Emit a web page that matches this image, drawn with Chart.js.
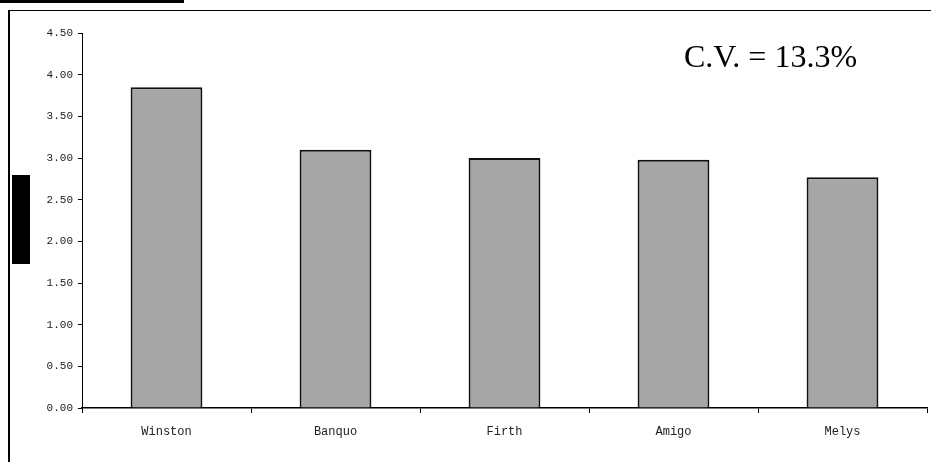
<!DOCTYPE html>
<html>
<head>
<meta charset="utf-8">
<script src="https://cdn.jsdelivr.net/npm/chart.js@4.4.1/dist/chart.umd.min.js"></script>
<style>
    html, body { margin: 0; padding: 0; background: #fff; overflow: hidden; }
    #wrap { position: relative; width: 931px; height: 462px; }
    #frame { position: absolute; left: 8px; top: 10px; width: 940px; height: 470px;
             border-left: 2px solid #000; border-top: 1.5px solid #000; box-sizing: border-box; }
    #cutTitle { position: absolute; left: 0; top: 0; width: 184px; height: 3px; background: #000; }
    #axisBox { position: absolute; left: 12px; top: 175px; width: 18px; height: 89px; background: #000; }
    canvas { position: absolute; left: 0; top: 0; }
</style>
</head>
<body>
<div id="wrap">
    <div id="cutTitle"></div>
    <div id="frame"></div>
    <div id="axisBox"></div>
    <canvas id="yieldChart" width="931" height="462"></canvas>
</div>
<script>
const varieties = ['Winston', 'Banquo', 'Firth', 'Amigo', 'Melys'];
const yieldValues = [3.85, 3.10, 3.00, 2.98, 2.77];
const yTicks = [0, 0.5, 1, 1.5, 2, 2.5, 3, 3.5, 4, 4.5];
const cvLabel = 'C.V. = 13.3%';

document.addEventListener('DOMContentLoaded', function () {
    createBarChart('yieldChart');
});

function createBarChart(canvasId) {
    const ctx = document.getElementById(canvasId).getContext('2d');

    // the C.V. note sits in the top right of the plot
    const cvText = {
        id: 'cvText',
        afterDraw(chart) {
            const c = chart.ctx;
            c.save();
            c.fillStyle = '#000';
            c.font = '32px "Liberation Serif", "Times New Roman", serif';
            c.textAlign = 'left';
            c.textBaseline = 'middle';
            c.fillText(cvLabel, 684, 59);
            c.restore();
        }
    };

    new Chart(ctx, {
        type: 'bar',
        data: {
            labels: varieties,
            datasets: [{
                data: yieldValues,
                backgroundColor: '#a6a6a6',
                borderColor: '#111',
                borderWidth: 2,
                barPercentage: 0.425,
                categoryPercentage: 1.0
            }]
        },
        options: {
            responsive: false,
            animation: false,
            layout: { padding: { top: 33, right: 4, left: 0, bottom: 0 } },
            plugins: {
                legend: { display: false },
                tooltip: { enabled: false }
            },
            scales: {
                x: {
                    offset: true,
                    afterFit: (scale) => { scale.height = 54; },
                    border: { display: true, color: '#000', width: 1.5 },
                    grid: {
                        offset: true,
                        drawOnChartArea: false,
                        drawTicks: true,
                        tickLength: 5,
                        color: '#000'
                    },
                    ticks: {
                        color: '#222',
                        padding: 12,
                        font: { family: '"Liberation Mono", "Courier New", monospace', size: 12 }
                    }
                },
                y: {
                    min: 0,
                    max: 4.5,
                    afterFit: (scale) => { scale.width = 82; },
                    afterBuildTicks: (scale) => { scale.ticks = yTicks.map(v => ({ value: v })); },
                    border: { display: true, color: '#000', width: 1 },
                    grid: {
                        drawOnChartArea: false,
                        drawTicks: true,
                        tickLength: 4,
                        color: '#000'
                    },
                    ticks: {
                        color: '#222',
                        padding: 5,
                        font: { family: '"Liberation Mono", "Courier New", monospace', size: 11 },
                        callback: (value) => Number(value).toFixed(2)
                    }
                }
            }
        },
        plugins: [cvText]
    });
}
</script>
</body>
</html>
